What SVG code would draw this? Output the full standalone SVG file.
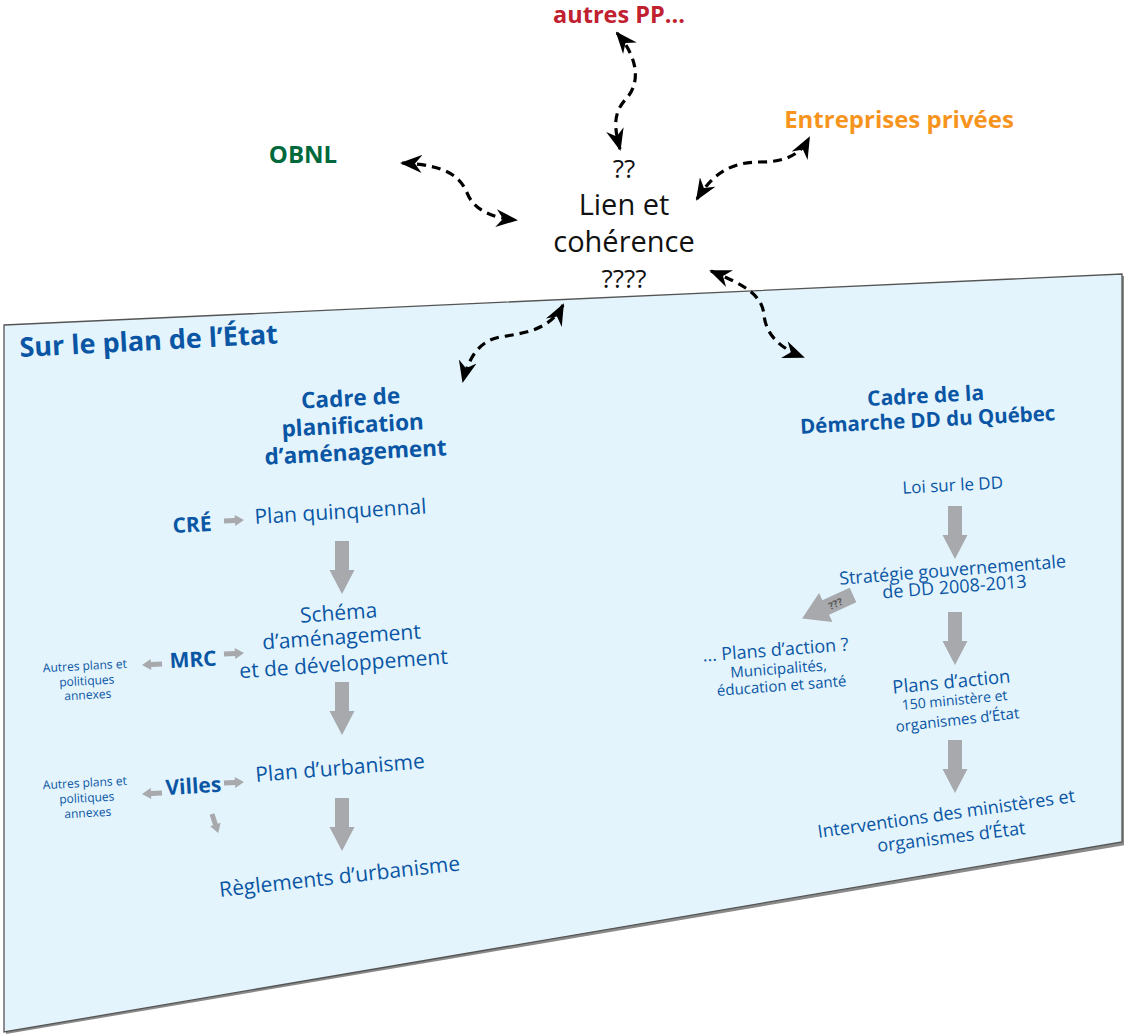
<svg xmlns="http://www.w3.org/2000/svg" width="1124" height="1036" viewBox="0 0 1124 1036">
<style>
text{font-family:"Open Sans","Noto Sans","Liberation Sans",sans-serif;}
.b{font-weight:bold;fill:#0a56a5;}
.r{fill:#0a56a5;}
.k{fill:#111;}
.m{text-anchor:middle;}
.dash{fill:none;stroke:#000;stroke-width:3.2;stroke-dasharray:9 6;marker-start:url(#ah);marker-end:url(#ah);}
.ga{fill:#a7a9ac;}
</style>
<defs>
<marker id="ah" markerUnits="userSpaceOnUse" markerWidth="22" markerHeight="18" viewBox="0 0 22 18" refX="20" refY="9" orient="auto-start-reverse">
<path d="M0,0 L22,9 L0,18 L7,9 Z" fill="#000"/>
</marker>
<path id="down" d="M-7,0 H7 V29 H12.5 L0,53 L-12.5,29 H-7 Z"/>
<path id="small" d="M0,-2.5 H11 V-5.5 L20,0 L11,5.5 V2.5 H0 Z"/>
</defs>

<g id="plane">
<polygon points="6,327 1125,276 1125,845 6,1034" fill="#8a8a8a"/>
<polygon points="4,325 1122,274 1122,842 4,1032" fill="#e3f4fc" stroke="#555" stroke-width="1.3"/>
</g>

<g id="top-labels">
<text id="autres" class="m" x="619" y="23" font-size="23.5" font-weight="bold" fill="#c1202f">autres PP...</text>
<text id="entreprises" class="m" x="899" y="128" font-size="24" font-weight="bold" fill="#f7941d">Entreprises privées</text>
<text id="obnl" class="m" x="303" y="163" font-size="24" font-weight="bold" fill="#00693c">OBNL</text>
</g>

<g id="lien" class="k">
<text class="m" x="624" y="178" font-size="26">??</text>
<text class="m" x="624" y="215" font-size="29">Lien et</text>
<text class="m" x="624" y="252" font-size="29">cohérence</text>
<text class="m" x="624" y="288" font-size="26">????</text>
</g>

<g id="connectors">
<path class="dash" d="M617,33 C640,60 640,85 625,100 C612,115 615,130 620,149"/>
<path class="dash" d="M402,163 C445,165 460,175 468,195 C476,212 495,218 516,220"/>
<path class="dash" d="M697,199 C715,170 735,162 760,162 C785,162 800,155 809,138"/>
<path class="dash" d="M711,271 C745,285 762,295 764,315 C766,335 780,348 803,357"/>
<path class="dash" d="M563,305 C550,330 525,333 500,337 C478,341 468,360 463,381"/>
</g>

<g id="etat-title">
<text class="b" x="20" y="357" font-size="27" transform="rotate(-3 20 357)">Sur le plan de l’État</text>
</g>

<g id="cadre-amenagement">
<text class="b m" x="351" y="406" font-size="22.5" transform="rotate(-3 351 406)">Cadre de</text>
<text class="b m" x="353" y="433" font-size="22.5" transform="rotate(-3 353 433)">planification</text>
<text class="b m" x="356" y="460" font-size="22.5" transform="rotate(-3 356 460)">d’aménagement</text>
</g>

<g id="cre">
<text class="b" x="173" y="533" font-size="21" transform="rotate(-3 173 533)">CRÉ</text>
<use href="#small" class="ga" transform="translate(224,521) rotate(-3)"/>
<text class="r" x="255" y="524" font-size="21" transform="rotate(-3.5 255 524)">Plan quinquennal</text>
</g>

<g id="arrow-left-1"><use href="#down" class="ga" transform="translate(342,541)"/></g>

<g id="mrc">
<text class="r m" x="339" y="620" font-size="21" transform="rotate(-4 339 620)">Schéma</text>
<text class="r m" x="342" y="644" font-size="21" transform="rotate(-4 342 644)">d’aménagement</text>
<text class="r m" x="344" y="671" font-size="21" transform="rotate(-4 344 671)">et de développement</text>
<text class="b" x="170" y="668" font-size="21" transform="rotate(-3 170 668)">MRC</text>
<use href="#small" class="ga" transform="translate(224,654) rotate(-3)"/>
<use href="#small" class="ga" transform="translate(162,664) rotate(177)"/>
<text class="r m" x="85" y="670" font-size="12" transform="rotate(-3 85 670)">Autres plans et</text>
<text class="r m" x="87" y="685" font-size="12" transform="rotate(-3 87 685)">politiques</text>
<text class="r m" x="88" y="699" font-size="12" transform="rotate(-3 88 699)">annexes</text>
</g>

<g id="arrow-left-2"><use href="#down" class="ga" transform="translate(342,682)"/></g>

<g id="villes">
<text class="r" x="256" y="782" font-size="21" transform="rotate(-4.7 256 782)">Plan d’urbanisme</text>
<text class="b" x="166" y="795" font-size="21" transform="rotate(-3.5 166 795)">Villes</text>
<use href="#small" class="ga" transform="translate(224,783) rotate(-3)"/>
<use href="#small" class="ga" transform="translate(162,793) rotate(177)"/>
<use href="#small" class="ga" transform="translate(212,814) rotate(72)"/>
<text class="r m" x="85" y="787" font-size="12" transform="rotate(-3 85 787)">Autres plans et</text>
<text class="r m" x="87" y="802" font-size="12" transform="rotate(-3 87 802)">politiques</text>
<text class="r m" x="88" y="817" font-size="12" transform="rotate(-3 88 817)">annexes</text>
</g>

<g id="arrow-left-3"><use href="#down" class="ga" transform="translate(342,798)"/></g>

<g id="reglements">
<text class="r" x="220" y="897" font-size="21" transform="rotate(-6.3 220 897)">Règlements d’urbanisme</text>
</g>

<g id="cadre-dd">
<text class="b m" x="926" y="403" font-size="21" transform="rotate(-3 926 403)">Cadre de la</text>
<text class="b m" x="928" y="427" font-size="20.5" transform="rotate(-3 928 427)">Démarche DD du Québec</text>
</g>

<g id="loi">
<text class="r m" x="953" y="491" font-size="17" transform="rotate(-3 953 491)">Loi sur le DD</text>
</g>
<g id="arrow-right-1"><use href="#down" class="ga" transform="translate(955,506)"/></g>

<g id="strategie">
<text class="r m" x="953" y="576" font-size="18" transform="rotate(-4.4 953 576)">Stratégie gouvernementale</text>
<text class="r m" x="955" y="593" font-size="18" transform="rotate(-4.4 955 593)">de DD 2008-2013</text>
</g>

<g id="arrow-qqq">
<path class="ga" d="M0,-8 H30 V-16 L56,0 L30,16 V8 H0 Z" transform="translate(853,595) rotate(155.3)"/>
<text x="837" y="607" font-size="10" font-weight="bold" fill="#555" text-anchor="middle" transform="rotate(-24.7 837 607)">???</text>
</g>

<g id="arrow-right-2"><use href="#down" class="ga" transform="translate(955,612)"/></g>

<g id="plans-autres">
<text class="r m" x="776" y="656" font-size="18" transform="rotate(-4.4 776 656)">... Plans d’action ?</text>
<text class="r m" x="779" y="674" font-size="15" transform="rotate(-4.4 779 674)">Municipalités,</text>
<text class="r m" x="782" y="691" font-size="15" transform="rotate(-4.4 782 691)">éducation et santé</text>
</g>

<g id="plans-action">
<text class="r m" x="952" y="688" font-size="18.5" transform="rotate(-5.5 952 688)">Plans d’action</text>
<text class="r m" x="955" y="705" font-size="14" transform="rotate(-5.5 955 705)">150 ministère et</text>
<text class="r m" x="958" y="725" font-size="15" transform="rotate(-6.4 958 725)">organismes d’État</text>
</g>

<g id="arrow-right-3"><use href="#down" class="ga" transform="translate(955,740)"/></g>

<g id="interventions">
<text class="r m" x="947" y="820" font-size="18" transform="rotate(-8 947 820)">Interventions des ministères et</text>
<text class="r m" x="952" y="843" font-size="18" transform="rotate(-7 952 843)">organismes d’État</text>
</g>
</svg>
